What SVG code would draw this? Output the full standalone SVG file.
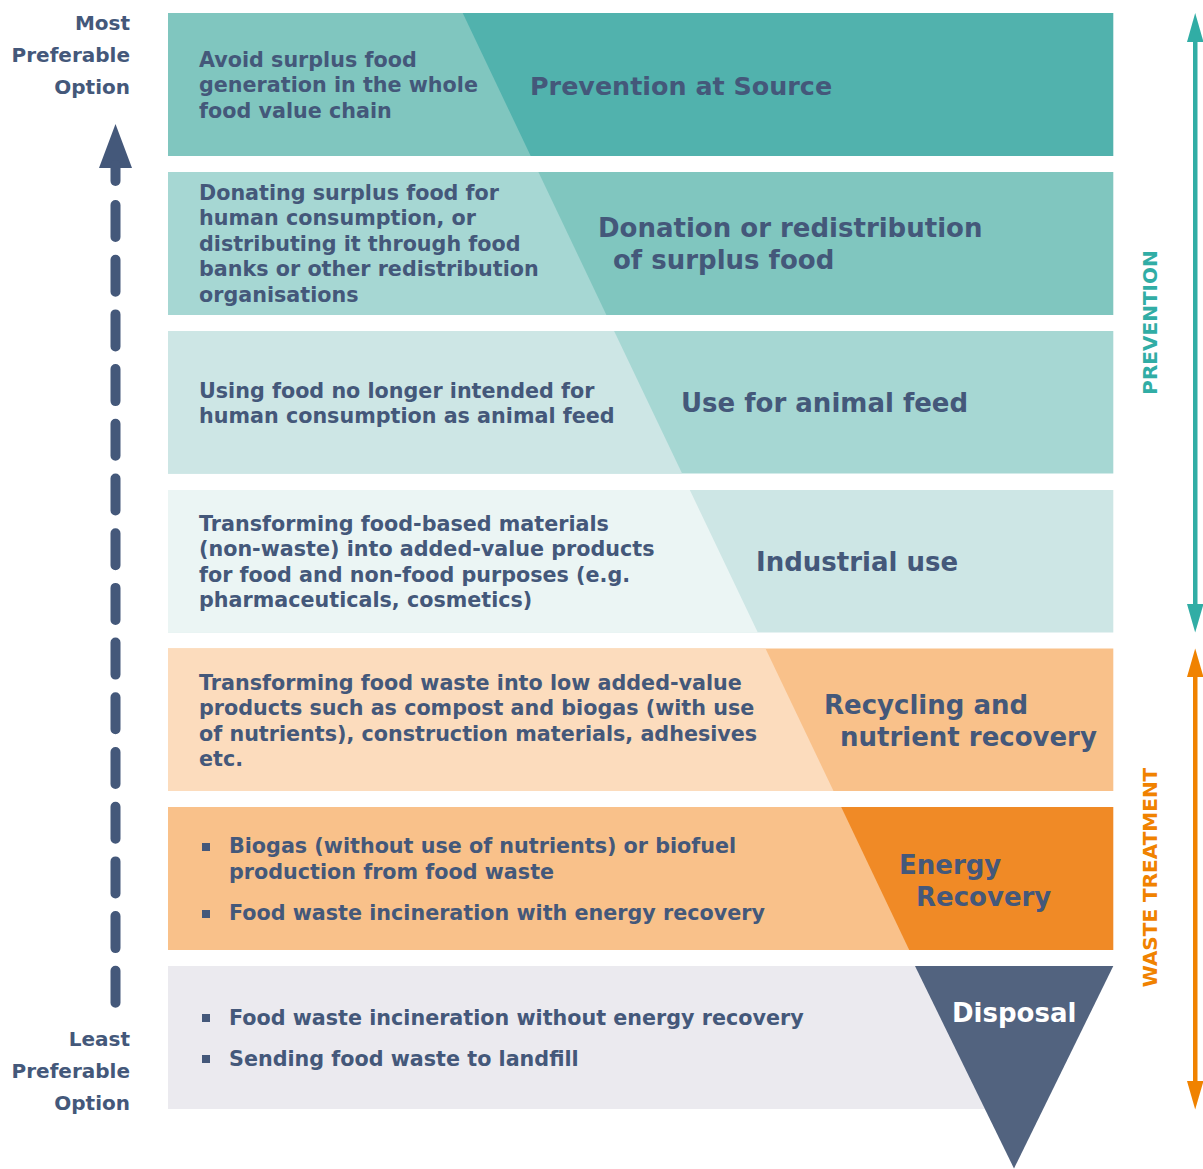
<svg xmlns="http://www.w3.org/2000/svg" width="1203" height="1169" viewBox="0 0 1203 1169">
<style>
text{font-family:"DejaVu Sans","Verdana",sans-serif;font-weight:bold;fill:#44587a}
.body{font-size:20.7px}
.main{font-size:26px}
.side{font-size:20px;text-anchor:end}
.vert{font-size:20px;text-anchor:middle}
.c1{fill:#51b2ad}.c2{fill:#80c6bf}.c3{fill:#a6d7d3}.c4{fill:#cde6e5}.c5{fill:#ebf5f4}
.o1{fill:#fcdcbd}.o2{fill:#f9c18a}.o3{fill:#f08a26}.g1{fill:#ebeaef}.g2{fill:#52637f}
.bul{fill:#44587a}
</style>
<rect width="1203" height="1169" fill="#ffffff"/>

<g id="left-labels">
<text class="side" x="130" y="30">Most</text>
<text class="side" x="130" y="62">Preferable</text>
<text class="side" x="130" y="94">Option</text>
<text class="side" x="130" y="1046">Least</text>
<text class="side" x="130" y="1078">Preferable</text>
<text class="side" x="130" y="1110">Option</text>
</g>

<g id="connectors">
<polygon points="115.5,124 132,168 99,168" fill="#44587a"/>
<line x1="115.5" y1="165" x2="115.5" y2="181" stroke="#44587a" stroke-width="10" stroke-linecap="round"/>
<line x1="115.5" y1="205" x2="115.5" y2="1004" stroke="#44587a" stroke-width="10" stroke-linecap="round" stroke-dasharray="32 22.7"/>
<rect x="1193" y="40" width="4.5" height="566" fill="#31ada5"/>
<polygon points="1195.2,13 1203.5,42 1187,42" fill="#31ada5"/>
<polygon points="1195.2,632.5 1203.5,604 1187,604" fill="#31ada5"/>
<rect x="1193" y="675" width="4.5" height="407" fill="#f08200"/>
<polygon points="1195.2,648.5 1203.5,677 1187,677" fill="#f08200"/>
<polygon points="1195.2,1109.5 1203.5,1081 1187,1081" fill="#f08200"/>
</g>

<g id="side-labels">
<text class="vert" transform="translate(1157,322.5) rotate(-90)" style="fill:#31ada5">PREVENTION</text>
<text class="vert" transform="translate(1157,877.5) rotate(-90)" style="fill:#f08200">WASTE TREATMENT</text>
</g>

<g id="row1">
<rect class="c1" x="168" y="13" width="945.3" height="143"/>
<polygon class="c2" points="168,13 462.7,13 530.7,156 168,156"/>
<text class="body"><tspan x="199" y="66.5">Avoid surplus food</tspan><tspan x="199" y="92">generation in the whole</tspan><tspan x="199" y="117.5">food value chain</tspan></text>
<text class="main" x="530" y="95" style="font-size:25.4px">Prevention at Source</text>
</g>

<g id="row2">
<rect class="c2" x="168" y="172" width="945.3" height="143"/>
<polygon class="c3" points="168,172 538.4,172 606.4,315 168,315"/>
<text class="body"><tspan x="199" y="199.5">Donating surplus food for</tspan><tspan x="199" y="225">human consumption, or</tspan><tspan x="199" y="250.5">distributing it through food</tspan><tspan x="199" y="276">banks or other redistribution</tspan><tspan x="199" y="301.5">organisations</tspan></text>
<text class="main"><tspan x="598" y="237">Donation or redistribution</tspan><tspan x="613" y="269">of surplus food</tspan></text>
</g>

<g id="row3">
<rect class="c3" x="168" y="331" width="945.3" height="142.5"/>
<polygon class="c4" points="168,331 614.1,331 682.1,473.5 168,473.5"/>
<text class="body"><tspan x="199" y="397.5">Using food no longer intended for</tspan><tspan x="199" y="423">human consumption as animal feed</tspan></text>
<text class="main" x="681" y="412">Use for animal feed</text>
</g>

<g id="row4">
<rect class="c4" x="168" y="490" width="945.3" height="142.5"/>
<polygon class="c5" points="168,490 689.8,490 757.8,632.5 168,632.5"/>
<text class="body"><tspan x="199" y="530.5">Transforming food-based materials</tspan><tspan x="199" y="556">(non-waste) into added-value products</tspan><tspan x="199" y="581.5">for food and non-food purposes (e.g.</tspan><tspan x="199" y="607">pharmaceuticals, cosmetics)</tspan></text>
<text class="main" x="756" y="571">Industrial use</text>
</g>

<g id="row5">
<rect class="o2" x="168" y="648.5" width="945.3" height="142.5"/>
<polygon class="o1" points="168,648.5 765.5,648.5 833.5,791 168,791"/>
<text class="body"><tspan x="199" y="689.5">Transforming food waste into low added-value</tspan><tspan x="199" y="715">products such as compost and biogas (with use</tspan><tspan x="199" y="740.5">of nutrients), construction materials, adhesives</tspan><tspan x="199" y="766">etc.</tspan></text>
<text class="main"><tspan x="824" y="714">Recycling and</tspan><tspan x="840" y="746">nutrient recovery</tspan></text>
</g>

<g id="row6">
<rect class="o3" x="168" y="807" width="945.3" height="143"/>
<polygon class="o2" points="168,807 841.2,807 909.2,950 168,950"/>
<rect class="bul" x="202" y="843" width="8" height="8"/>
<rect class="bul" x="202" y="910" width="8" height="8"/>
<text class="body"><tspan x="229" y="853">Biogas (without use of nutrients) or biofuel</tspan><tspan x="229" y="879">production from food waste</tspan><tspan x="229" y="919.5">Food waste incineration with energy recovery</tspan></text>
<text class="main"><tspan x="899" y="873.5">Energy</tspan><tspan x="916" y="905.5">Recovery</tspan></text>
</g>

<g id="row7">
<rect class="g1" x="168" y="966" width="820" height="143"/>
<polygon class="g2" points="915,966 1113.3,966 1014,1168.5"/>
<rect class="bul" x="202" y="1014" width="8" height="8"/>
<rect class="bul" x="202" y="1055" width="8" height="8"/>
<text class="body"><tspan x="229" y="1025">Food waste incineration without energy recovery</tspan><tspan x="229" y="1066">Sending food waste to landfill</tspan></text>
<text class="main" x="952" y="1022" style="fill:#ffffff">Disposal</text>
</g>
</svg>
